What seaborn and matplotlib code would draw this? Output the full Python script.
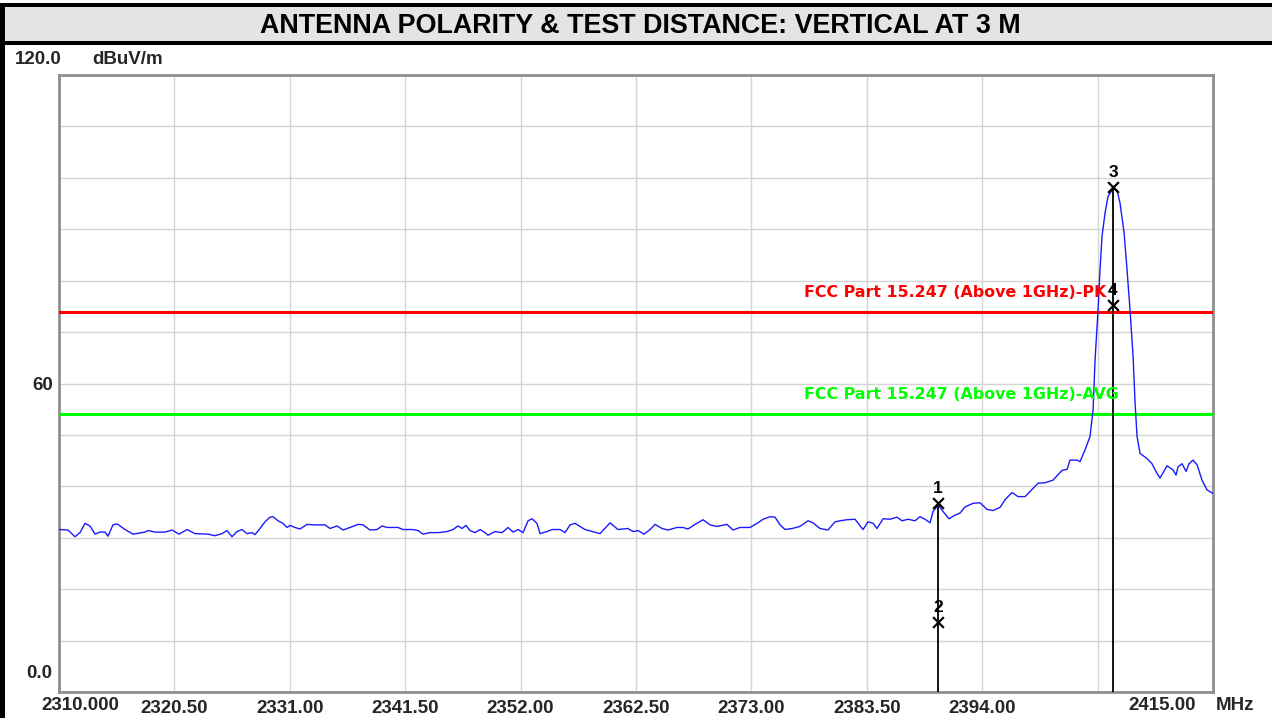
import numpy as np
import pandas as pd
import matplotlib
matplotlib.use("Agg")
import matplotlib.pyplot as plt
from matplotlib.patches import Rectangle
import seaborn as sns

# Spectrum trace (MHz, dBuV/m)
freq_mhz = [
    2310.00, 2310.82, 2311.46, 2311.91, 2312.37, 2312.82, 2313.28, 2313.73, 2314.19, 2314.46,
    2314.91, 2315.28, 2316.01, 2316.73, 2317.83, 2318.10, 2318.74, 2319.65, 2320.28, 2320.92,
    2321.65, 2322.37, 2323.56, 2324.19, 2324.83, 2325.29, 2325.74, 2326.20, 2326.65, 2327.11,
    2327.56, 2327.83, 2328.29, 2328.74, 2329.20, 2329.47, 2329.93, 2330.38, 2330.75, 2331.02,
    2331.47, 2331.93, 2332.57, 2333.29, 2334.20, 2334.66, 2335.30, 2335.84, 2336.48, 2337.21,
    2337.66, 2338.30, 2338.94, 2339.39, 2339.85, 2340.85, 2341.30, 2342.21, 2342.67, 2343.12,
    2343.76, 2344.49, 2345.30, 2345.85, 2346.31, 2346.67, 2347.03, 2347.40, 2347.85, 2348.31,
    2348.76, 2349.04, 2349.67, 2350.31, 2350.86, 2351.31, 2351.77, 2352.22, 2352.68, 2353.04,
    2353.49, 2353.77, 2354.40, 2354.86, 2355.59, 2356.04, 2356.50, 2356.95, 2357.86, 2359.23,
    2360.14, 2360.86, 2361.77, 2362.23, 2362.68, 2363.23, 2363.78, 2364.23, 2364.87, 2365.41,
    2366.23, 2366.78, 2367.23, 2367.87, 2368.60, 2369.24, 2369.87, 2370.78, 2371.33, 2371.96,
    2372.87, 2373.51, 2374.06, 2374.70, 2375.15, 2375.61, 2376.06, 2376.70, 2377.42, 2378.15,
    2378.61, 2379.24, 2379.97, 2380.61, 2381.06, 2381.70, 2382.43, 2383.16, 2383.61, 2384.07,
    2384.43, 2384.98, 2385.61, 2386.25, 2386.71, 2387.25, 2387.89, 2388.34, 2388.80, 2389.25,
    2389.53, 2390.00, 2390.44, 2390.98, 2391.53, 2391.98, 2392.44, 2393.17, 2393.80, 2394.44,
    2394.99, 2395.62, 2396.08, 2396.71, 2397.26, 2397.90, 2398.35, 2399.08, 2399.72, 2400.44,
    2401.26, 2401.72, 2401.99, 2402.63, 2402.90, 2403.36, 2403.81, 2404.09, 2404.27, 2404.54,
    2404.72, 2404.90, 2405.18, 2405.45, 2405.91, 2406.27, 2406.54, 2406.91, 2407.18, 2407.45,
    2407.73, 2407.91, 2408.09, 2408.36, 2409.00, 2409.45, 2409.91, 2410.18, 2410.82, 2411.36,
    2411.64, 2411.82, 2412.18, 2412.55, 2412.82, 2413.18, 2413.55, 2414.00, 2414.46, 2415.00,
]
level_dbuv = [
    31.6, 31.5, 30.2, 31.0, 32.8, 32.3, 30.7, 31.1, 31.1, 30.3,
    32.5, 32.7, 31.6, 30.7, 31.1, 31.4, 31.1, 31.1, 31.5, 30.7,
    31.6, 30.8, 30.7, 30.4, 30.8, 31.4, 30.2, 31.2, 31.6, 30.8,
    31.0, 30.6, 31.8, 33.1, 34.0, 34.1, 33.3, 32.8, 32.0, 32.4,
    32.0, 31.7, 32.6, 32.5, 32.5, 31.8, 32.3, 31.5, 32.0, 32.6,
    32.5, 31.5, 31.6, 32.3, 32.0, 32.0, 31.6, 31.6, 31.4, 30.7,
    31.0, 31.0, 31.2, 31.6, 32.3, 31.8, 32.4, 31.4, 31.0, 31.6,
    31.0, 30.5, 31.2, 31.0, 32.0, 31.1, 31.6, 31.0, 33.3, 33.7,
    32.8, 30.8, 31.2, 31.6, 31.6, 31.0, 32.5, 32.8, 31.6, 30.8,
    32.9, 31.6, 31.8, 31.2, 31.4, 30.7, 31.6, 32.6, 31.8, 31.5,
    32.0, 32.0, 31.7, 32.6, 33.5, 32.5, 32.2, 32.6, 31.5, 32.0,
    32.0, 32.8, 33.6, 34.1, 34.0, 32.5, 31.6, 31.8, 32.2, 33.3,
    32.9, 31.8, 31.5, 33.1, 33.3, 33.5, 33.6, 31.6, 33.1, 32.8,
    31.8, 33.7, 33.6, 34.0, 33.3, 33.6, 33.3, 34.1, 33.6, 32.9,
    35.1, 36.4, 35.1, 33.7, 34.4, 34.8, 36.0, 36.7, 36.8, 35.5,
    35.3, 35.9, 37.4, 38.8, 38.0, 38.0, 39.0, 40.6, 40.7, 41.2,
    43.1, 43.3, 45.1, 45.1, 44.8, 47.1, 49.7, 54.9, 64.6, 74.3,
    82.1, 88.6, 93.2, 96.4, 97.9, 97.6, 95.1, 89.3, 82.1, 74.3,
    65.2, 56.2, 49.7, 46.4, 45.4, 44.4, 42.5, 41.6, 44.0, 43.2,
    42.2, 43.8, 44.4, 42.9, 44.4, 45.1, 44.2, 41.2, 39.3, 38.6,
]

# Markers
marker_no = ["1", "2", "3", "4"]
marker_freq = [2390.0, 2390.0, 2405.9, 2405.9]
marker_level = [36.8, 13.6, 98.3, 75.3]

# Limit lines
limit_pk = 74.0
limit_avg = 54.0
limit_pk_label = "FCC Part 15.247 (Above 1GHz)-PK"
limit_avg_label = "FCC Part 15.247 (Above 1GHz)-AVG"

x_ticks = [2310.0, 2320.5, 2331.0, 2341.5, 2352.0, 2362.5, 2373.0, 2383.5, 2394.0, 2404.5, 2415.0]
x_tick_labels = ["", "2320.50", "2331.00", "2341.50", "2352.00", "2362.50",
                 "2373.00", "2383.50", "2394.00", "", ""]
y_ticks = list(range(0, 121, 10))

title = "ANTENNA POLARITY & TEST DISTANCE: VERTICAL AT 3 M"

sns.set_theme(style="white")
plt.rcParams["font.family"] = ["Liberation Sans", "DejaVu Sans"]

W, H = 1272, 718
fig = plt.figure(figsize=(W / 100, H / 100), dpi=100)
ax = fig.add_axes([59 / W, 1 - 692 / H, (1213 - 59) / W, (692 - 75) / H])

# title bar + left frame
fig.patches.append(Rectangle((0, 1 - 45 / H), 1, 42 / H, transform=fig.transFigure,
                             facecolor="black", edgecolor="none", zorder=0))
fig.patches.append(Rectangle((0, 1 - 41 / H), 1, 34 / H, transform=fig.transFigure,
                             facecolor="#e4e4e4", edgecolor="none", zorder=1))
fig.patches.append(Rectangle((0, 0), 5 / W, 1 - 3 / H, transform=fig.transFigure,
                             facecolor="black", edgecolor="none", zorder=2))
fig.text(0.503, 1 - 26 / H, title, ha="center", va="center",
         fontsize=19.4, fontweight="bold", color="black")

df = pd.DataFrame({"freq": freq_mhz, "level": level_dbuv})
sns.lineplot(data=df, x="freq", y="level", ax=ax, color="#1a1aff", linewidth=1.0, zorder=4)

ax.axhline(limit_pk, color="#ff0000", linewidth=2.2, zorder=3)
ax.axhline(limit_avg, color="#00ff00", linewidth=2.2, zorder=3)
ax.text(2405.3, limit_pk + 2.8, limit_pk_label, ha="right", va="baseline",
        color="#ff0000", fontsize=11.4, fontweight="bold", family="DejaVu Sans", zorder=7)
ax.text(2406.4, limit_avg + 3.0, limit_avg_label, ha="right", va="baseline",
        color="#00ff00", fontsize=11.4, fontweight="bold", family="DejaVu Sans", zorder=7)

# marker drop lines (from markers 1 and 3 down to the axis)
for i in (0, 2):
    ax.vlines(marker_freq[i], 0, marker_level[i], color="black", linewidth=1.3, zorder=5)

mk = pd.DataFrame({"freq": marker_freq, "level": marker_level})
sns.scatterplot(data=mk, x="freq", y="level", ax=ax, marker="x", color="black",
                s=60, linewidth=1.6, zorder=6)
for n, f, v in zip(marker_no, marker_freq, marker_level):
    ax.annotate(n, (f, v), xytext=(0, 5), textcoords="offset points",
                ha="center", va="bottom", fontsize=12.5, fontweight="bold",
                color="black", zorder=6)

ax.set_xlim(2310, 2415)
ax.set_ylim(0, 120)
ax.set_xticks(x_ticks)
ax.set_xticklabels(x_tick_labels)
ax.set_yticks(y_ticks)
ax.set_yticklabels(["60" if t == 60 else "" for t in y_ticks])
ax.set_xlabel("")
ax.set_ylabel("")
ax.grid(True, color="#d4d4d4", linewidth=1.0)
ax.set_axisbelow(True)
for s in ax.spines.values():
    s.set_color("#8f8f8f")
    s.set_linewidth(2.0)
ax.tick_params(axis="x", length=0, pad=6, labelsize=13.5)
ax.tick_params(axis="y", length=2.5, pad=2, labelsize=13.5, color="#8f8f8f")
for lab in ax.get_xticklabels() + ax.get_yticklabels():
    lab.set_fontweight("bold")

# axis end labels like the analyser print-out
fig.text(80 / W, 1 - 706 / H, "2310.000", ha="center", va="center", fontsize=13.5, fontweight="bold")
fig.text(1162 / W, 1 - 706 / H, "2415.00", ha="center", va="center", fontsize=13.5, fontweight="bold")
fig.text(1216 / W, 1 - 706 / H, "MHz", ha="left", va="center", fontsize=13.5, fontweight="bold")
fig.text(52 / W, 1 - 674 / H, "0.0", ha="right", va="center", fontsize=13.5, fontweight="bold")
fig.text(15 / W, 1 - 59 / H, "120.0", ha="left", va="center", fontsize=13.5, fontweight="bold")
fig.text(92 / W, 1 - 59 / H, "dBuV/m", ha="left", va="center", fontsize=13.5, fontweight="bold")

fig.savefig("out.png", dpi=100)
